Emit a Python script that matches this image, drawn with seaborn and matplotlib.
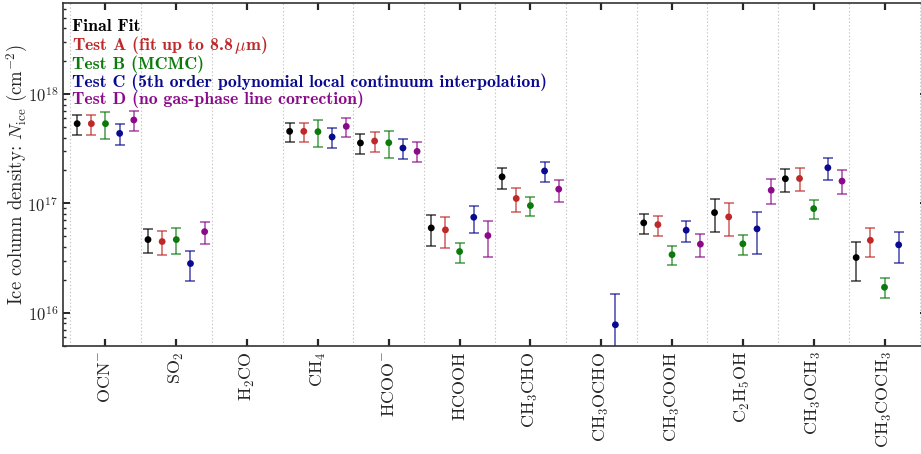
import numpy as np
import pandas as pd
import matplotlib
matplotlib.use("Agg")
import matplotlib.pyplot as plt
from matplotlib.lines import Line2D
from matplotlib.ticker import LogLocator, FixedLocator
import seaborn as sns

nan = np.nan

molecules = [r"$\mathrm{OCN^{-}}$", r"$\mathrm{SO_2}$", r"$\mathrm{H_2CO}$", r"$\mathrm{CH_4}$",
             r"$\mathrm{HCOO^{-}}$", r"$\mathrm{HCOOH}$", r"$\mathrm{CH_3CHO}$", r"$\mathrm{CH_3OCHO}$",
             r"$\mathrm{CH_3COOH}$", r"$\mathrm{C_2H_5OH}$", r"$\mathrm{CH_3OCH_3}$", r"$\mathrm{CH_3COCH_3}$"]

series_names = ["Final Fit", r"Test A (fit up to 8.8$\,\mu$m)", "Test B (MCMC)",
                "Test C (5th order polynomial local continuum interpolation)",
                "Test D (no gas-phase line correction)"]

# Column densities (cm^-2): best value, lower and upper bound
final_n = [5.36e17, 4.67e16, nan, 4.56e17, 3.57e17, 5.97e16, 1.75e17, nan, 6.64e16, 8.24e16, 1.68e17, 3.20e16]
final_lo = [4.23e17, 3.53e16, nan, 3.61e17, 2.85e17, 4.04e16, 1.36e17, nan, 5.23e16, 5.53e16, 1.28e17, 1.97e16]
final_hi = [6.43e17, 5.85e16, nan, 5.43e17, 4.31e17, 7.85e16, 2.12e17, nan, 8.07e16, 1.09e17, 2.08e17, 4.42e16]

testa_n = [5.36e17, 4.48e16, nan, 4.56e17, 3.72e17, 5.73e16, 1.11e17, nan, 6.40e16, 7.53e16, 1.69e17, 4.60e16]
testa_lo = [4.25e17, 3.39e16, nan, 3.65e17, 2.97e17, 3.93e16, 8.40e16, nan, 5.01e16, 5.08e16, 1.31e17, 3.27e16]
testa_hi = [6.50e17, 5.56e16, nan, 5.47e17, 4.46e17, 7.47e16, 1.37e17, nan, 7.69e16, 1.00e17, 2.09e17, 5.93e16]

testb_n = [5.36e17, 4.67e16, nan, 4.53e17, 3.59e17, 3.63e16, 9.55e16, nan, 3.40e16, 4.27e16, 8.96e16, 1.71e16]
testb_lo = [3.91e17, 3.46e16, nan, 3.28e17, 2.62e17, 2.86e16, 7.62e16, nan, 2.72e16, 3.40e16, 7.16e16, 1.37e16]
testb_hi = [6.80e17, 5.93e16, nan, 5.74e17, 4.56e17, 4.39e16, 1.15e17, nan, 4.06e16, 5.12e16, 1.08e17, 2.07e16]

testc_n = [4.37e17, 2.82e16, nan, 4.05e17, 3.21e17, 7.47e16, 1.98e17, 7.77e15, 5.69e16, 5.85e16, 2.12e17, 4.18e16]
testc_lo = [3.42e17, 1.95e16, nan, 3.21e17, 2.55e17, 5.38e16, 1.56e17, 5.0e14, 4.45e16, 3.46e16, 1.65e17, 2.86e16]
testc_hi = [5.32e17, 3.68e16, nan, 4.86e17, 3.85e17, 9.55e16, 2.39e17, 1.50e16, 6.92e16, 8.30e16, 2.58e17, 5.53e16]

testd_n = [5.79e17, 5.52e16, nan, 5.06e17, 2.99e17, 5.08e16, 1.35e17, nan, 4.24e16, 1.32e17, 1.60e17, nan]
testd_lo = [4.59e17, 4.24e16, nan, 4.05e17, 2.39e17, 3.27e16, 1.03e17, nan, 3.24e16, 9.82e16, 1.22e17, nan]
testd_hi = [7.00e17, 6.82e16, nan, 6.08e17, 3.61e17, 6.92e16, 1.65e17, nan, 5.23e16, 1.66e17, 2.00e17, nan]

colors = ["#000000", "#BE2828", "#0B7A0B", "#0A0A8E", "#8A0A8A"]
offsets = [-0.4, -0.2, 0.0, 0.2, 0.4]

values = [(final_n, final_lo, final_hi), (testa_n, testa_lo, testa_hi), (testb_n, testb_lo, testb_hi),
          (testc_n, testc_lo, testc_hi), (testd_n, testd_lo, testd_hi)]

rows = []
for name, (n, lo, hi), off in zip(series_names, values, offsets):
    for i, mol in enumerate(molecules):
        rows.append(dict(series=name, molecule=mol, pos=i + off, N=n[i], lo=lo[i], hi=hi[i]))
df = pd.DataFrame(rows)

sns.set_theme(style="ticks")
plt.rcParams.update({
    "font.family": ["cmr10"],
    "mathtext.fontset": "cm",
    "axes.formatter.use_mathtext": True,
    "axes.unicode_minus": False,
    "font.size": 11,
    "axes.edgecolor": "#333333",
    "axes.linewidth": 1.2,
})

fig = plt.figure(figsize=(9.21, 4.54), dpi=100)
ax = fig.add_axes([63 / 921, 1 - 345.7 / 454, 864 / 921, 342.7 / 454])

# error bars per fit variant
for name, color in zip(series_names, colors):
    sub = df[df["series"] == name].dropna(subset=["N"])
    yerr = np.vstack([sub["N"] - sub["lo"], sub["hi"] - sub["N"]])
    ax.errorbar(sub["pos"], sub["N"], yerr=yerr, fmt="none", ecolor=color,
                elinewidth=1.1, capsize=3.6, capthick=1.1, alpha=0.75, zorder=2)

sns.scatterplot(data=df.dropna(subset=["N"]), x="pos", y="N", hue="series",
                hue_order=series_names, palette=colors, s=24, linewidth=0,
                legend=False, zorder=3, ax=ax)

ax.set_yscale("log")
ax.set_ylim(5e15, 6.8e18)
ax.set_xlim(-0.6, 11.6)

ax.set_xticks(range(len(molecules)))
ax.set_xticklabels(molecules, rotation=90)
ax.xaxis.set_minor_locator(FixedLocator(np.arange(-0.5, len(molecules), 1.0)))
ax.grid(True, which="minor", axis="x", color="#c4c4c4", linestyle=(0, (1.2, 2)), linewidth=0.8)
ax.tick_params(axis="x", which="minor", length=0)
ax.tick_params(axis="x", which="major", direction="in", length=5, width=1.6, top=True, bottom=True,
               pad=4, labelsize=13)

ax.yaxis.set_major_locator(LogLocator(base=10, numticks=10))
ax.yaxis.set_minor_locator(LogLocator(base=10, subs=np.arange(2, 10), numticks=20))
ax.tick_params(axis="y", which="major", direction="in", length=5, width=1.4, left=True, right=True,
               labelsize=12)
ax.tick_params(axis="y", which="minor", direction="in", length=2.5, width=1.0, left=True, right=True)

ax.set_xlabel("")
ax.set_ylabel(r"Ice column density: $N_{\rm ice}$ (cm$^{-2}$)", fontsize=13.5, labelpad=-2)

handles = [Line2D([], [], linestyle="none") for _ in series_names]
leg = ax.legend(handles, series_names, loc="upper left", bbox_to_anchor=(0.0104, 0.955),
                frameon=False, handlelength=0, handletextpad=0, labelspacing=0.0,
                borderaxespad=0, borderpad=0, prop={"family": "cmb10", "size": 12.8})
for txt, color in zip(leg.get_texts(), colors):
    txt.set_color(color)

sns.despine(ax=ax, top=False, right=False)
fig.savefig("out.png", dpi=100)
